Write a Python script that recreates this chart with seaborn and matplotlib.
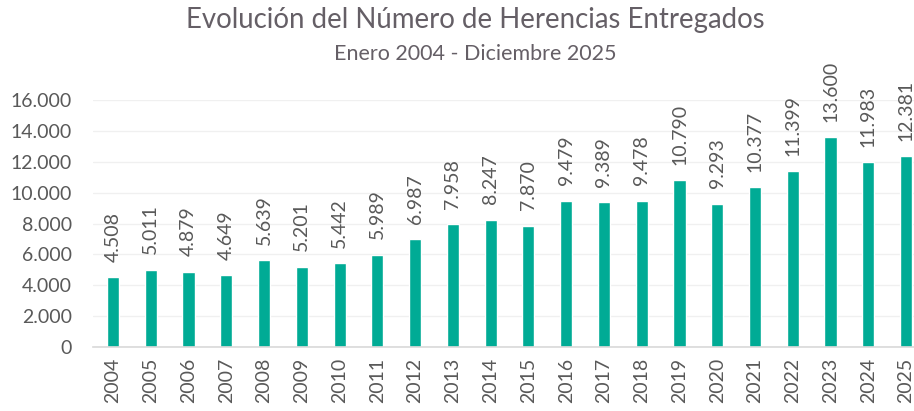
import pandas as pd
import matplotlib.pyplot as plt
import seaborn as sns

years = [str(y) for y in range(2004, 2026)]
herencias = [4508, 5011, 4879, 4649, 5639, 5201, 5442, 5989, 6987, 7958, 8247,
             7870, 9479, 9389, 9478, 10790, 9293, 10377, 11399, 13600, 11983, 12381]
yticks = [0, 2000, 4000, 6000, 8000, 10000, 12000, 14000, 16000]

title = 'Evolución del Número de Herencias Entregados'
subtitle = 'Enero 2004 - Diciembre 2025'

bar_color = '#00AB95'
text_color = '#595959'


def miles(v):
    return f'{v:,.0f}'.replace(',', '.')


sns.set_style('white')
plt.rcParams['font.family'] = ['Lato', 'DejaVu Sans']

df = pd.DataFrame({'year': years, 'value': herencias})

fig = plt.figure(figsize=(9.14, 4.11), dpi=100)
ax = fig.add_axes([0.1017, 0.1557, 0.8983, 0.601])

sns.barplot(data=df, x='year', y='value', color=bar_color, width=0.32,
            saturation=1, ax=ax)

ax.set_xlim(-0.53, 21.21)
ax.set_ylim(0, 16000)
ax.set_yticks(yticks)
ax.set_yticklabels([miles(v) for v in yticks], fontsize=14, color=text_color)
ax.tick_params(axis='y', length=0, pad=15)
ax.tick_params(axis='x', length=0, pad=8, labelsize=14, labelcolor=text_color,
               rotation=90)
ax.set_xlabel('')
ax.set_ylabel('')

ax.yaxis.grid(True, color='#f0f0f0', linewidth=1)
ax.set_axisbelow(True)
for s in ['top', 'right', 'left']:
    ax.spines[s].set_visible(False)
ax.spines['bottom'].set_color('#d9d9d9')
ax.spines['bottom'].set_linewidth(1.2)

for i, v in enumerate(herencias):
    ax.annotate(miles(v), (i, v), xytext=(0, 11), textcoords='offset points',
                rotation=90, ha='center', va='bottom', fontsize=14,
                color=text_color, annotation_clip=False)

fig.text(0.52, 0.951, title, ha='center', va='center', fontsize=19.9,
         color='#655f66')
fig.text(0.52, 0.868, subtitle, ha='center', va='center', fontsize=15.5,
         color='#655f66')

fig.savefig('out.png', dpi=100)
